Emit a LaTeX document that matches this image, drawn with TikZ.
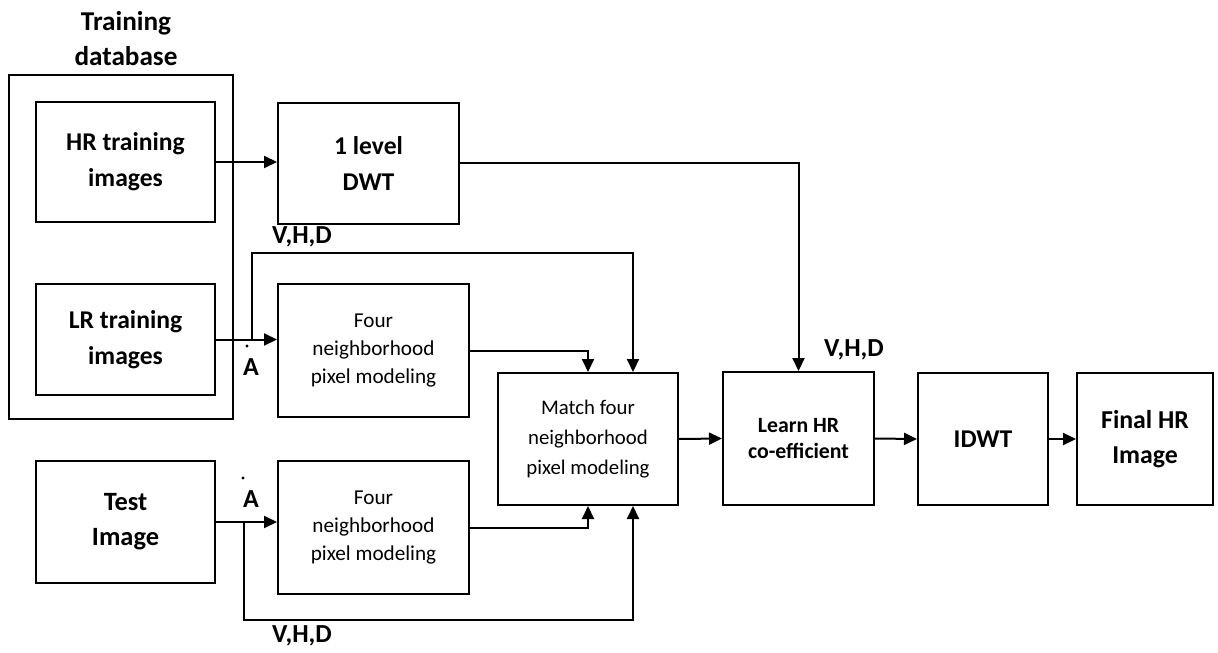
\documentclass[tikz,border=0pt]{standalone}
\usepackage{fontspec}
\setmainfont{Carlito}
\usepackage{tikz}
\usetikzlibrary{arrows.meta, positioning, calc}

\tikzset{
    block/.style={draw, line width=1pt, align=center, inner sep=0pt},
    boldtext/.style={font=\fontsize{12.8}{18}\selectfont\bfseries},
    thintext/.style={font=\fontsize{10.6}{14}\selectfont},
    flow/.style={line width=1pt, -{Triangle[length=6.5pt, width=6pt]}},
    wire/.style={line width=1pt},
    tag/.style={font=\fontsize{13}{15}\selectfont\bfseries, inner sep=0pt}
}

\begin{document}
\begin{tikzpicture}[x=0.5pt, y=-0.5pt]
        \useasboundingbox (0, 0) rectangle (1218, 652);

        % Training database
        \node[font=\fontsize{13.6}{17.5}\selectfont\bfseries, align=center] (dbtitle) at (126, 39) {Training\\database};
        \draw[wire] (9, 75) rectangle (233, 419);
        \node[block, boldtext, minimum width=89.5pt, minimum height=60pt] (hr) at (125.5, 162) {HR training\\images};
        \node[block, boldtext, minimum width=89.5pt, minimum height=55.5pt] (lr) at (125.5, 339.5) {LR training\\images};

        % Test input
        \node[block, font=\fontsize{13.2}{17.5}\selectfont\bfseries, minimum width=89.5pt, minimum height=61pt] (test) at (125.5, 522) {Test\\Image};

        % Processing blocks
        \node[block, boldtext, minimum width=90.5pt, minimum height=60.5pt] (dwt) at (368.5, 163.5) {1 level\\DWT};
        \node[block, thintext, minimum width=95.5pt, minimum height=66.5pt] (fourA) at (373.5, 350.5) {Four\\neighborhood\\pixel modeling};
        \node[block, thintext, minimum width=95.5pt, minimum height=66.5pt] (fourB) at (373.5, 527.5) {Four\\neighborhood\\pixel modeling};
        \node[block, font=\fontsize{10.4}{15}\selectfont, minimum width=90pt, minimum height=66pt] (match) at (588, 439) {Match four\\neighborhood\\pixel modeling};
        \node[block, font=\fontsize{10.9}{13}\selectfont\bfseries, minimum width=75.5pt, minimum height=66.5pt] (learn) at (798.5, 438.5) {Learn HR\\co-efficient};
        \node[block, font=\fontsize{12.8}{18}\selectfont\bfseries, minimum width=65pt, minimum height=66pt] (idwt) at (983, 439) {IDWT};
        \node[block, font=\fontsize{12.9}{17.5}\selectfont\bfseries, minimum width=68pt, minimum height=66pt] (final) at (1145, 439) {Final HR\\Image};

        % Branch points
        \coordinate (splitA) at (252, 339.5);
        \coordinate (splitB) at (244, 522);

        % Connectors
        \draw[flow] (hr.east) -- (hr.east -| dwt.west);
        \draw[flow] (dwt.east) -| (learn.north);
        \draw[flow] (lr.east) -- (lr.east -| fourA.west);
        \draw[flow] (splitA) |- (252, 253) -| ($(match.north) + (45, 0)$);
        \draw[flow] (fourA.east) -| (match.north);
        \draw[flow] (test.east) -- (test.east -| fourB.west);
        \draw[flow] (splitB) |- (244, 620) -| ($(match.south) + (45, 0)$);
        \draw[flow] (fourB.east) -| (match.south);
        \draw[flow] (match.east) -- (learn.west);
        \draw[flow] (learn.east) -- (idwt.west);
        \draw[flow] (idwt.east) -- (final.west);

        % Labels
        \node[tag] (vhdA) at (302, 237) {V,H,D};
        \node[tag] (vhdB) at (302, 636) {V,H,D};
        \node[tag] (vhdC) at (854, 350) {V,H,D};
        \node[tag] (inA) at (251, 367) {A};
        \node[tag] (inB) at (251, 499) {A};
        \fill (247, 346) circle (0.8pt);
        \fill (243, 478) circle (0.8pt);
    \end{tikzpicture}
\end{document}
